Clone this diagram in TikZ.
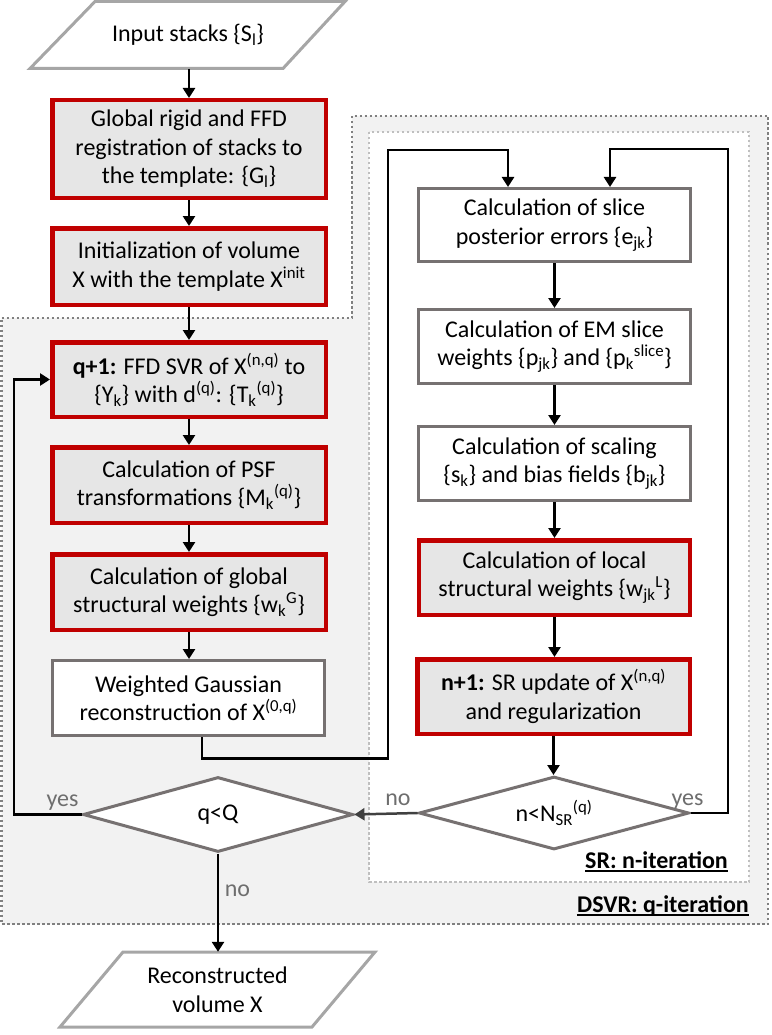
\documentclass[tikz,border=0pt]{standalone}
\usepackage{fontspec}
\setmainfont{Carlito}
\usetikzlibrary{shapes.geometric,arrows.meta,calc}
\definecolor{redb}{RGB}{192,0,0}
\definecolor{fillg}{RGB}{230,230,230}
\definecolor{boxg}{RGB}{118,113,113}
\definecolor{iog}{RGB}{166,166,166}
\definecolor{dsvr}{RGB}{242,242,242}
\definecolor{dotd}{RGB}{128,128,128}
\definecolor{dotl}{RGB}{191,191,191}
\definecolor{lblg}{RGB}{110,110,110}
\definecolor{arrg}{RGB}{64,64,64}
\begin{document}
\begin{tikzpicture}[x=1pt,y=-1pt,
 every node/.style={font=\fontsize{24}{28.5}\selectfont, align=center},
 redbox/.style={draw=redb, fill=fillg, line width=4.5pt, inner sep=0pt, minimum width=273.5pt, minimum height=75.5pt},
 graybox/.style={draw=boxg, fill=white, line width=3pt, inner sep=0pt, minimum width=272pt, minimum height=74pt},
 dec/.style={diamond, draw=boxg, fill=white, line width=3pt, inner sep=0pt, aspect=3.6, minimum width=270pt, minimum height=75pt},
 iotext/.style={inner sep=0pt, minimum width=240pt, minimum height=67pt},
 iobox/.style={draw=iog, fill=white, line width=3pt, line join=miter},
 conn/.style={draw=black, line width=2.5pt, -{Triangle[width=12pt,length=10pt]}},
 lbl/.style={text=lblg, inner sep=0pt},
 reg/.style={inner sep=0pt, font=\fontsize{24}{28.5}\selectfont\bfseries},
 regline/.style={draw=black, line width=1.6pt},
 dsvrreg/.style={draw=dotd, fill=dsvr, line width=2.5pt, dash pattern=on 2.5pt off 2.5pt},
 srreg/.style={draw=dotl, fill=white, line width=2.5pt, dash pattern=on 2.5pt off 2.5pt},
]
\useasboundingbox (0,0) rectangle (771,1035);

% iteration regions
\draw[dsvrreg] (1.5,318) -- (352,318) -- (352,116) -- (768,116) -- (768,924) -- (1.5,924) -- cycle;
\draw[srreg] (369,132) rectangle (749,882);

% input / output
\draw[iobox] (30,68.5) -- (95,1.5) -- (345,1.5) -- (283,68.5) -- cycle;
\node[iotext] (in) at (188,35) {Input stacks \{S\textsubscript{l}\}};
\draw[iobox] (60,1027) -- (123,952) -- (375,952) -- (312,1027) -- cycle;
\node[iotext, minimum height=75pt] (out) at (217.5,989.5) {Reconstructed\\volume X};

% left column
\node[redbox, minimum height=97.5pt] (g1) at (189,149) {Global rigid and FFD\\registration of stacks to\\the template: \{G\textsubscript{l}\}};
\node[redbox, minimum height=76.5pt] (g2) at (189,266.5) {Initialization of volume\\X with the template X\textsuperscript{init}};
\node[redbox, minimum height=74.5pt] (g3) at (189,379.5) {\textbf{q+1:} FFD SVR of X\textsuperscript{(n,q)} to\\\{Y\textsubscript{k}\} with d\textsuperscript{(q)}: \{T\textsubscript{k}\textsuperscript{(q)}\}};
\node[redbox] (g4) at (189,485) {Calculation of PSF\\transformations \{M\textsubscript{k}\textsuperscript{(q)}\}};
\node[redbox] (g5) at (189,592) {Calculation of global\\structural weights \{w\textsubscript{k}\textsuperscript{G}\}};
\node[graybox, minimum height=75pt] (g6) at (188.5,698) {Weighted Gaussian\\reconstruction of X\textsuperscript{(0,q)}};
\node[dec] (d1) at (218,814.5) {q<Q};

% right column
\node[graybox, minimum height=73pt] (r1) at (554.5,225) {Calculation of slice\\posterior errors \{e\textsubscript{jk}\}};
\node[graybox] (r2) at (554.5,346.5) {Calculation of EM slice\\weights \{p\textsubscript{jk}\} and \{p\textsubscript{k}\textsuperscript{slice}\}};
\node[graybox] (r3) at (554.5,463.5) {Calculation of scaling\\\{s\textsubscript{k}\} and bias fields \{b\textsubscript{jk}\}};
\node[redbox, minimum width=271pt, minimum height=74.5pt] (r4) at (554.5,577.5) {Calculation of local\\structural weights \{w\textsubscript{jk}\textsuperscript{L}\}};
\node[redbox, minimum width=272.5pt, minimum height=74.5pt] (r5) at (553.5,696.5) {\textbf{n+1:} SR update of X\textsuperscript{(n,q)}\\and regularization};
\node[dec, minimum height=73pt] (d2) at (554,813) {n<N\textsubscript{SR}\textsuperscript{(q)}};

% connectors, left
\draw[conn] (g1.north |- in.south) -- (g1.north);
\draw[conn] (g1.south) -- (g2.north);
\draw[conn] (g2.south) -- (g3.north);
\draw[conn] (g3.south) -- (g4.north);
\draw[conn] (g4.south) -- (g5.north);
\draw[conn] (g5.south) -- (g5.south |- g6.north);
\draw[conn] ([xshift=13.5pt]g6.south) -- ++(0,21.5) -| (388,150) -| ([xshift=-46.5pt]r1.north);
\draw[conn] (d1.west) -| ([xshift=-36pt]g3.west) -- (g3.west);
\draw[conn] (d1.south) -- (d1.south |- out.north);

% connectors, right
\draw[conn] (r1.south) -- (r2.north);
\draw[conn] (r2.south) -- (r3.north);
\draw[conn] (r3.south) -- (r4.north);
\draw[conn] (r4.south) -- (r4.south |- r5.north);
\draw[conn] (r5.south) -- (r5.south |- d2.north);
\draw[conn] (d2.east) -| (728,149) -| ([xshift=55.5pt]r1.north);
\draw[conn, draw=arrg] (d2.west) -- (d1.east);

% labels
\node[lbl, anchor=base] (y1) at (62.5,806) {yes};
\node[lbl, anchor=base] (n1) at (237.5,896) {no};
\node[lbl, anchor=base] (n2) at (398,805) {no};
\node[lbl, anchor=base] (y2) at (687.5,805) {yes};
\node[reg, anchor=base east] (srl) at (728,868) {SR: n-iteration};
\node[reg, anchor=base east] (dsl) at (749,912) {DSVR: q-iteration};
\draw[regline] ([yshift=-3pt]srl.base west) -- ([yshift=-3pt]srl.base east);
\draw[regline] ([yshift=-3pt]dsl.base west) -- ([yshift=-3pt]dsl.base east);
\end{tikzpicture}
\end{document}
